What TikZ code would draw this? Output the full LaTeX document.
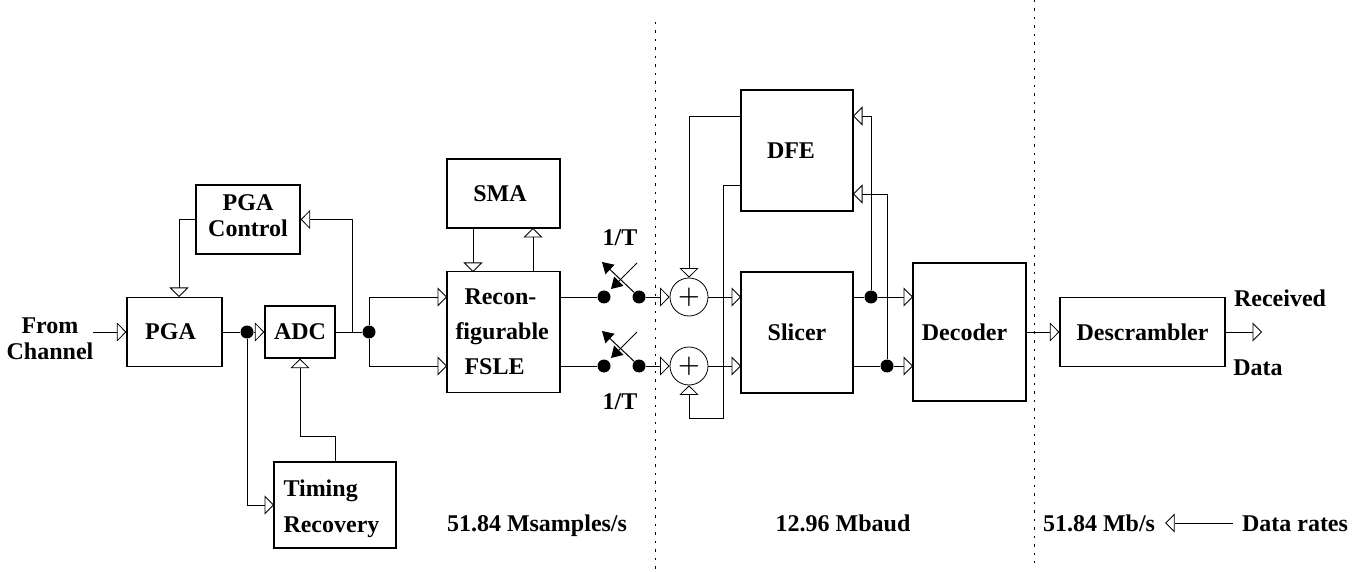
\documentclass[tikz,border=0pt]{standalone}
\usepackage{fontspec}
\setmainfont{Liberation Serif}
\usetikzlibrary{arrows.meta}
\tikzset{
  box/.style 2 args={draw,line width=1.3pt,minimum width=#1pt,minimum height=#2pt,inner sep=0pt,align=center,font=\lbl},
  txt/.style={inner sep=0pt,align=center,font=\lbl},
  ratetxt/.style={txt,text height=21pt,text depth=5pt},
  dot/.style={circle,fill,minimum size=13pt,inner sep=0pt},
  adder/.style={circle,draw,line width=0.8pt,minimum size=38pt,inner sep=0pt,font=\fontsize{25}{25}\selectfont\boldmath},
  sig/.style={line width=0.8pt},
  sigto/.style={sig,-{Triangle[open,length=9.5pt,width=19pt,line width=0.8pt]}},
  swarm/.style={line width=1pt,-{Triangle[length=11pt,width=13pt]}},
  rate/.style={line width=0.9pt,dash pattern=on 2.5pt off 6pt}
}
\newcommand{\lbl}{\fontsize{24}{26}\selectfont\bfseries}
\begin{document}
\begin{tikzpicture}[x=1pt,y=-1pt]
    \useasboundingbox (0,0) rectangle (1361,572);

    % Blocks
    \node[box={95}{69}] (pga) at (174.5,332) {PGA\hspace*{8pt}};
    \node[box={104}{69}] (ctrl) at (248,219.5) {PGA\\Control\rule[-8pt]{0pt}{1pt}};
    \node[box={70}{52}] (adc) at (300,332) {ADC};
    \node[box={122}{86},align=left,text width=103pt] (timing) at (335,505) {\rule{0pt}{24pt}Timing\\[10pt]Recovery};
    \node[box={113}{121},align=left,text width=96pt] (fsle) at (503.5,332) {\hspace*{9pt}Recon-\\[9pt]figurable\\[9pt]\hspace*{9pt}FSLE};
    \node[box={113}{69}] (sma) at (503.5,193.5) {SMA\hspace*{7pt}};
    \node[box={112}{121}] (dfe) at (797,150.5) {DFE\hspace*{12pt}};
    \node[box={112}{121}] (slicer) at (797,332.5) {Slicer};
    \node[box={113}{138}] (decoder) at (969.5,332) {Decoder\hspace*{10pt}};
    \node[box={165}{69}] (desc) at (1142.5,332) {Descrambler};

    % Texts
    \node[txt] (from) at (50,339) {From\\Channel};
    \node[txt] (recv) at (1280,298) {Received};
    \node[txt] (data) at (1258,368) {Data};
    \node[ratetxt] (rsamp) at (537,523) {51.84 Msamples/s};
    \node[ratetxt] (rbaud) at (843,523) {12.96 Mbaud};
    \node[ratetxt] (rmb) at (1099,523) {51.84 Mb/s};
    \node[ratetxt] (rlabel) at (1295,523) {Data rates};
    \node[txt] (topt) at (620,238) {1/T};
    \node[txt] (bott) at (620,402) {1/T};

    % Junctions
    \node[dot] (dotp) at (247,332) {};
    \node[dot] (dotq) at (369,332) {};
    \node[dot] (dotu) at (871,297) {};
    \node[dot] (dotv) at (887,366) {};

    % Ports and bends
    \coordinate (chin) at (93,332);
    \coordinate (pgain) at (179,297);
    \coordinate (tapc) at (352,332);
    \coordinate (timin) at (274,505);
    \coordinate (tbend) at (300,436);
    \coordinate (smaout) at (473,228);
    \coordinate (fslectl) at (473,272);
    \coordinate (fsleout) at (533,272);
    \coordinate (smain) at (533,228);
    \coordinate (dfeouta) at (741,116);
    \coordinate (dfeoutb) at (741,185);
    \coordinate (lowbend) at (723,418);
    \coordinate (dfeina) at (853,116);
    \coordinate (dfeinb) at (853,194);
    \coordinate (recvout) at (1262,332);

    % Upper and lower path
    \foreach \n/\y in {a/297,b/366} {
      \coordinate (fslein\n) at (447,\y);
      \coordinate (fslesrc\n) at (560,\y);
      \coordinate (slicin\n) at (741,\y);
      \coordinate (slicsrc\n) at (853,\y);
      \coordinate (decin\n) at (913,\y);
      \node[dot] (swl\n) at (604,\y) {};
      \node[dot] (swr\n) at (639,\y) {};
      \node[adder] (add\n) at (689,\y) {$+$};
      \coordinate (swtip\n) at (602,\y-35);
      \coordinate (swfree\n) at (637,\y-34);
      \coordinate (swend\n) at (611,\y-8);
      \draw[sigto] (dotq) |- (fslein\n);
      \draw[sig] (fslesrc\n) -- (swl\n);
      \draw[swarm] (swr\n) -- (swtip\n);
      \draw[swarm] (swfree\n) -- (swend\n);
      \draw[sigto] (swr\n) -- (add\n);
      \draw[sigto] (add\n) -- (slicin\n);
    }

    % Left part
    \draw[sigto] (chin) -- (pga);
    \draw[sig] (pga) -- (dotp);
    \draw[sigto] (dotp) -- (adc);
    \draw[sig] (adc) -- (dotq);
    \draw[sigto] (tapc) |- (ctrl);
    \draw[sigto] (ctrl) -| (pgain);
    \draw[sigto] (dotp) |- (timin);
    \draw[sigto] (timing) |- (tbend) -- (adc);
    \draw[sigto] (smaout) -- (fslectl);
    \draw[sigto] (fsleout) -- (smain);

    % Feedback
    \draw[sigto] (dfeouta) -| (adda);
    \draw[sigto] (dfeoutb) -| (lowbend) -| (addb);
    \draw[sig] (slicsrca) -- (dotu);
    \draw[sigto] (dotu) -- (decina);
    \draw[sig] (slicsrcb) -- (dotv);
    \draw[sigto] (dotv) -- (decinb);
    \draw[sigto] (dotu) |- (dfeina);
    \draw[sigto] (dotv) |- (dfeinb);

    % Output
    \draw[sigto] (decoder) -- (desc);
    \draw[sigto] (desc) -- (recvout);
    \draw[sigto,shorten <=9pt,shorten >=10pt] (rlabel) -- (rmb);

    % Rate limits
    \draw[rate] (655,22) -- (655,572);
    \draw[rate] (1034,0) -- (1034,563);

  \end{tikzpicture}
\end{document}
